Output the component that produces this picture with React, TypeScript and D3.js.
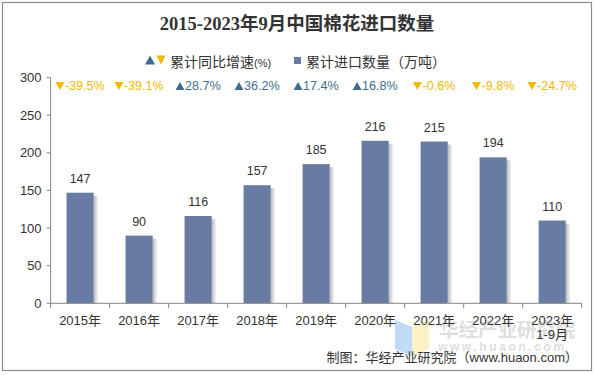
import React from "react";
import * as d3 from "d3";

const categories = ["2015年", "2016年", "2017年", "2018年", "2019年", "2020年", "2021年", "2022年", "2023年"];
const subLabels = ["", "", "", "", "", "", "", "", "1-9月"];
const imports = [147, 90, 116, 157, 185, 216, 215, 194, 110];
const growth = [-39.5, -39.1, 28.7, 36.2, 17.4, 16.8, -0.6, -9.8, -24.7];
const yTicks = [0, 50, 100, 150, 200, 250, 300];

const W = 596, H = 375;
const left = 50.6, right = 581.7, top = 77.6, bottom = 303.3;
const BAR = "#677ba3";
const UP = "#3f6d8f";
const DOWN = "#f5b800";
const FONT = "Arial, 'Liberation Sans', 'Noto Sans CJK SC', sans-serif";
const GF = 12.6;

function textWidth(s: string, size: number) {
  let w = 0;
  for (const ch of s) {
    if (ch === "-") w += 0.333;
    else if (ch === ".") w += 0.278;
    else if (ch === "%") w += 0.889;
    else w += 0.556;
  }
  return w * size;
}

function tri(cx: number, cy: number, w: number, h: number, up: boolean) {
  return up
    ? `M${cx - w / 2},${cy + h / 2}L${cx + w / 2},${cy + h / 2}L${cx},${cy - h / 2}Z`
    : `M${cx - w / 2},${cy - h / 2}L${cx + w / 2},${cy - h / 2}L${cx},${cy + h / 2}Z`;
}

export default function App() {
  const x = d3.scaleBand<string>().domain(categories).range([left, right]).paddingInner(0.54).paddingOuter(0.27);
  const xb = d3.scaleBand<string>().domain(categories).range([left, right]);
  const y = d3.scaleLinear().domain([0, 300]).range([bottom, top]);
  const bw = x.bandwidth();

  return (
    <svg width={W} height={H} style={{ position: "absolute", left: 0, top: 0, background: "#fff" }} fontFamily={FONT}>
      <defs>
        <linearGradient id="shadow" x1="0" x2="1" y1="0" y2="0">
          <stop offset="0" stopColor="#000" stopOpacity="0.28" />
          <stop offset="1" stopColor="#000" stopOpacity="0" />
        </linearGradient>
      </defs>
      <rect x={2.5} y={2.5} width={589} height={368} fill="#fff" stroke="#8c8c8c" strokeWidth={1.2} />
      <text x={297} y={30} textAnchor="middle" fontSize={18.5} fontWeight="bold" fill="#333"
        fontFamily="'Liberation Serif', 'Times New Roman', 'Noto Sans CJK SC', serif">
        2015-2023年9月中国棉花进口数量
      </text>

      {/* legend */}
      <g fontSize={14} fill="#333">
        <path d={tri(150, 60, 10, 9, true)} fill={UP} />
        <path d={tri(161, 60, 9, 9, false)} fill={DOWN} />
        <text x={170} y={67}>累计同比增速<tspan fontSize={11}>(%)</tspan></text>
        <rect x={294} y={57} width={7} height={7} fill={BAR} />
        <text x={306} y={67}>累计进口数量（万吨）</text>
      </g>

      {/* growth row */}
      <g fontSize={GF}>
        {growth.map((g, i) => {
          const cx = (xb(categories[i]) || 0) + xb.bandwidth() / 2;
          const up = g >= 0;
          const label = g.toFixed(1) + "%";
          const tw = textWidth(label, GF);
          const total = 9.5 + tw;
          const x0 = cx - total / 2;
          return (
            <g key={i} fill={up ? UP : DOWN}>
              <path d={tri(x0 + 4.5, 86, 9, 8, up)} />
              <text x={x0 + 9.5} y={90}>{label}</text>
            </g>
          );
        })}
      </g>

      {/* y axis */}
      <line x1={left} x2={left} y1={top} y2={bottom} stroke="#868686" />
      {yTicks.map((t) => (
        <g key={t}>
          <line x1={left - 4} x2={left} y1={y(t)} y2={y(t)} stroke="#868686" />
          <text x={left - 9} y={y(t) + 4.5} textAnchor="end" fontSize={13} fill="#333">{t}</text>
        </g>
      ))}

      {/* bars */}
      {imports.map((v, i) => {
        const bx = x(categories[i]) || 0;
        return (
          <g key={i}>
            <rect x={bx + bw} y={y(v) + 3} width={5} height={bottom - y(v) - 3} fill="url(#shadow)" />
            <rect x={bx} y={y(v)} width={bw} height={bottom - y(v)} fill={BAR} />
            <text x={bx + bw / 2} y={y(v) - 10} textAnchor="middle" fontSize={12.5} fill="#333">{v}</text>
          </g>
        );
      })}

      {/* x axis */}
      <line x1={left} x2={right} y1={bottom} y2={bottom} stroke="#868686" />
      {categories.map((c) => (
        <line key={c} x1={(xb(c) || 0) + xb.bandwidth()} x2={(xb(c) || 0) + xb.bandwidth()} y1={bottom} y2={bottom + 5} stroke="#868686" />
      ))}
      <line x1={left} x2={left} y1={bottom} y2={bottom + 5} stroke="#868686" />

      {/* watermark */}
      <g opacity={0.55}>
        <polygon points="395,320 412,327 412,356 395,349" fill="#8fbcf0" />
        <polygon points="412,327 429,320 429,349 412,356" fill="#fbe59a" />
        <text x={439} y={337} fontSize={19.5} fontWeight="bold" fill="#c4c4c4">华经产业研究院</text>
        <text x={438} y={351} fontSize={12} fontWeight="bold" fill="#c4c4c4" letterSpacing={2.6}>www.huaon.com</text>
      </g>

      {categories.map((c, i) => {
        const cx = (xb(c) || 0) + xb.bandwidth() / 2;
        return (
          <g key={c} fontSize={13} fill="#333" textAnchor="middle">
            <text x={cx} y={324.5}>{c}</text>
            {subLabels[i] && <text x={cx} y={338.5}>{subLabels[i]}</text>}
          </g>
        );
      })}

      <text x={578} y={362} textAnchor="end" fontSize={13} fill="#333">制图：华经产业研究院（www.huaon.com）</text>
    </svg>
  );
}
